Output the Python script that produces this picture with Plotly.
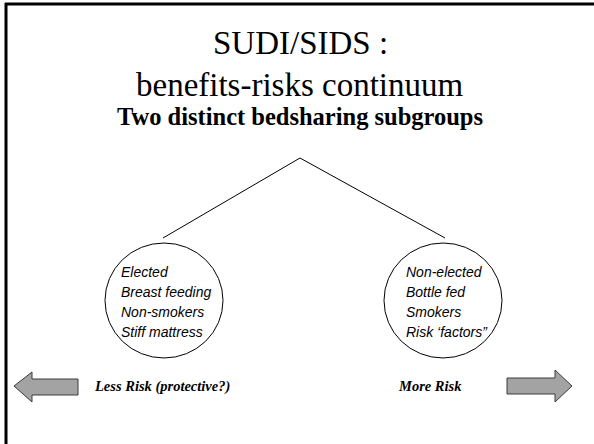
import plotly.graph_objects as go

# ---- content ----
title_lines = ["SUDI/SIDS :", "benefits-risks continuum"]
subtitle = "Two distinct bedsharing subgroups"
left_items = ["Elected", "Breast feeding", "Non-smokers", "Stiff mattress"]
right_items = ["Non-elected", "Bottle fed", "Smokers", "Risk \u2018factors\u201d"]
risk_labels = ["Less Risk (protective?)", "More Risk"]

W, H = 594, 444
SERIF = "Liberation Serif, Times New Roman, serif"
SANS = "Liberation Sans, Arial, Helvetica, sans-serif"

fig = go.Figure()

shapes = []
# slide border (top and left)
shapes.append(dict(type="line", x0=5, y0=4, x1=W, y1=4, line=dict(color="black", width=3)))
shapes.append(dict(type="line", x0=6, y0=3, x1=6, y1=H, line=dict(color="black", width=3)))

# tree lines
apex = (300, 158)
shapes.append(dict(type="line", x0=apex[0], y0=apex[1], x1=163, y1=238, line=dict(color="black", width=1)))
shapes.append(dict(type="line", x0=apex[0], y0=apex[1], x1=445, y1=238, line=dict(color="black", width=1)))

# circles
for cx in (164, 443):
    shapes.append(dict(type="circle", x0=cx - 59, x1=cx + 59, y0=243, y1=358,
                       line=dict(color="black", width=1)))

# arrows
left_arrow = "M 14 386 L 32 372 L 32 379 L 78 379 L 78 395 L 32 395 L 32 402 Z"
right_arrow = "M 572 386 L 555 370 L 555 378 L 507 378 L 507 394 L 555 394 L 555 402 Z"
for p in (left_arrow, right_arrow):
    shapes.append(dict(type="path", path=p, fillcolor="#a3a3a3",
                       line=dict(color="#3a3a3a", width=1)))

annotations = []
annotations.append(dict(x=300, y=43, text=title_lines[0], showarrow=False,
                        font=dict(family=SERIF, size=33, color="black")))
annotations.append(dict(x=300, y=85, text=title_lines[1], showarrow=False,
                        font=dict(family=SERIF, size=33, color="black")))
annotations.append(dict(x=300, y=116, text="<b>" + subtitle + "</b>", showarrow=False,
                        font=dict(family=SERIF, size=24.5, color="black")))

ys = [272, 292, 312, 332]
for items, x0 in ((left_items, 119), (right_items, 404)):
    for t, y in zip(items, ys):
        annotations.append(dict(x=x0, y=y, text="<i>" + t + "</i>", showarrow=False,
                                xanchor="left", font=dict(family=SANS, size=14, color="black")))

annotations.append(dict(x=162, y=386, text="<b><i>" + risk_labels[0] + "</i></b>", showarrow=False,
                        font=dict(family=SERIF, size=14.5, color="black")))
annotations.append(dict(x=430, y=386, text="<b><i>" + risk_labels[1] + "</i></b>", showarrow=False,
                        font=dict(family=SERIF, size=14.5, color="black")))

fig.update_layout(
    width=W, height=H, margin=dict(l=0, r=0, t=0, b=0),
    paper_bgcolor="white", plot_bgcolor="white",
    xaxis=dict(range=[0, W], visible=False, fixedrange=True),
    yaxis=dict(range=[H, 0], visible=False, fixedrange=True),
    shapes=shapes, annotations=annotations, showlegend=False,
)
fig.write_html("out.html", config={"displayModeBar": False},
               post_script="document.body.style.margin='0';document.body.style.overflow='hidden';")
